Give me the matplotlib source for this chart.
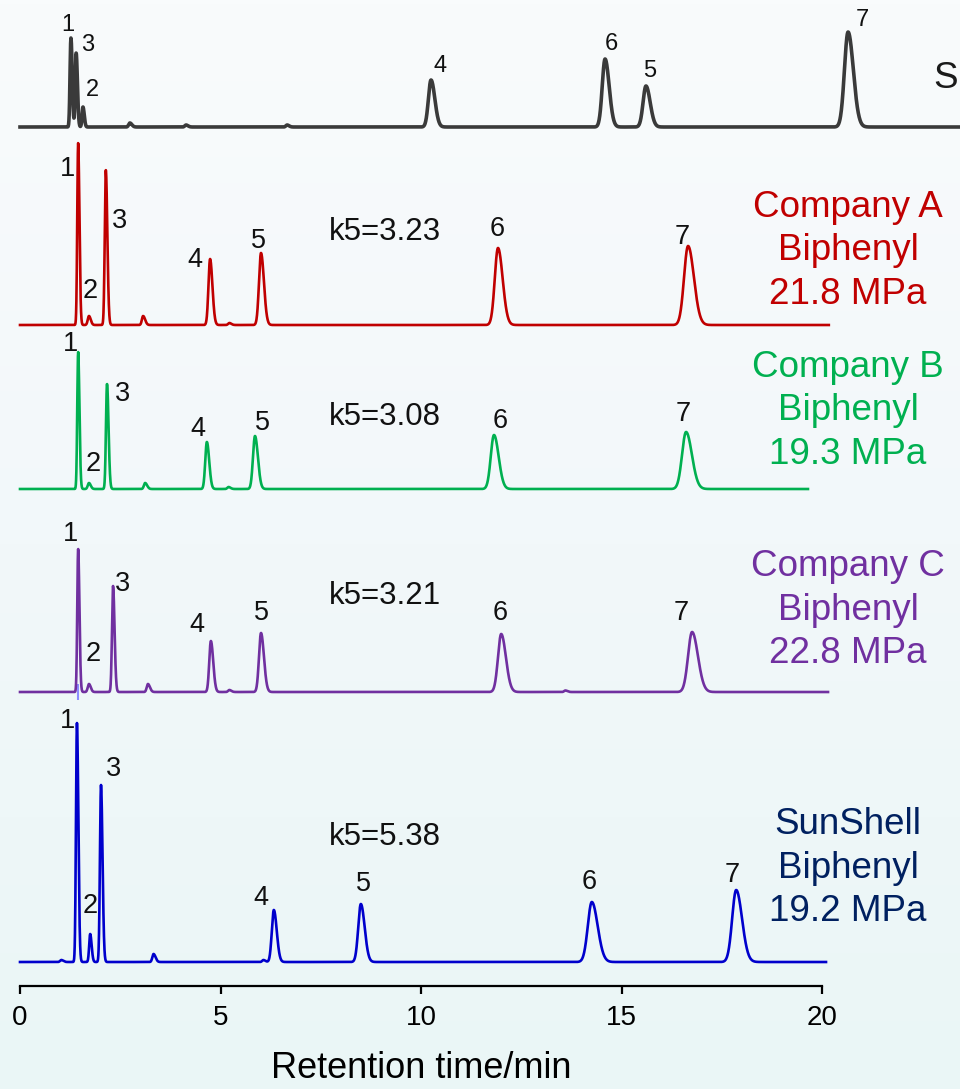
import numpy as np
import matplotlib
matplotlib.use("Agg")
import matplotlib.pyplot as plt
from matplotlib import font_manager
from matplotlib.colors import LinearSegmentedColormap

# ---------------- chromatogram data ----------------
# retention times (min), peak heights (detector units), peak widths (sigma, min)
peak_ids = ["1", "2", "3", "4", "5", "6", "7"]

ref_times = [1.27, 1.57, 1.40, 10.25, 15.61, 14.59, 20.65]
ref_heights = [89, 20, 74, 47, 41, 68, 95]
ref_sigmas = [0.022, 0.022, 0.022, 0.065, 0.072, 0.07, 0.09]
ref_minor_times = [2.74, 4.14, 6.66]
ref_minor_heights = [4, 2, 2]

a_times = [1.45, 1.72, 2.14, 4.74, 6.01, 11.92, 16.66]
a_heights = [182, 9, 155, 66, 72, 77, 79]
a_sigmas = [0.022, 0.03, 0.026, 0.04, 0.05, 0.08, 0.1]
a_minor_times = [3.07, 5.22]
a_minor_heights = [9, 2]

b_times = [1.45, 1.72, 2.17, 4.66, 5.86, 11.82, 16.61]
b_heights = [137, 6, 105, 47, 53, 54, 57]
b_sigmas = [0.022, 0.03, 0.026, 0.04, 0.05, 0.08, 0.1]
b_minor_times = [3.12, 5.2]
b_minor_heights = [6, 2]

c_times = [1.45, 1.72, 2.32, 4.76, 6.01, 12.0, 16.76]
c_heights = [143, 8, 106, 51, 59, 58, 60]
c_sigmas = [0.022, 0.03, 0.026, 0.04, 0.05, 0.08, 0.1]
c_minor_times = [3.19, 5.22, 13.6]
c_minor_heights = [8, 2, 1.5]

s_times = [1.42, 1.75, 2.02, 6.33, 8.50, 14.26, 17.86]
s_heights = [239, 28, 177, 52, 58, 60, 72]
s_sigmas = [0.024, 0.025, 0.026, 0.05, 0.065, 0.1, 0.1]
s_minor_times = [1.03, 3.33, 6.07]
s_minor_heights = [2, 8, 2]

run_ends = [23.44, 20.17, 19.65, 20.15, 20.10]
k5_values = ["", "3.23", "3.08", "3.21", "5.38"]
column_labels = ["", "Company A\nBiphenyl\n21.8 MPa", "Company B\nBiphenyl\n19.3 MPa",
                 "Company C\nBiphenyl\n22.8 MPa", "SunShell\nBiphenyl\n19.2 MPa"]

x_ticks = [0, 5, 10, 15, 20]
x_label = "Retention time/min"

# ---------------- layout / styling ----------------
W, H, DPI = 960, 1089, 100
PX_PER_MIN = 40.1
AXIS_Y = 986                      # pixel row of the time axis
X0 = 20                           # pixel column of t = 0

offsets = [859, 661, 497, 294, 24]            # trace baselines above the axis (px)
line_colors = ["#3a3a3a", "#C00000", "#00B050", "#7030A0", "#0000CC"]
text_colors = ["#1a1a1a", "#C00000", "#00B050", "#7030A0", "#002060"]
line_widths = [2.6, 1.9, 1.9, 1.9, 1.9]
label_sizes = [17, 19.5, 19.5, 19.5, 19.5]

# peak-number label offsets from each apex (px, right / up)
label_offsets = [
    [(-3, 13), (9, 17), (12, 8), (9, 14), (4, 15), (6, 15), (14, 12)],
    [(-11, -26), (1, 25), (14, -51), (-15, -1), (-3, 12), (-1, 19), (-6, 9)],
    [(-8, 8), (4, 19), (16, -10), (-9, 13), (7, 13), (6, 14), (-3, 18)],
    [(-8, 15), (4, 30), (9, 2), (-14, 16), (0, 20), (-1, 21), (-11, 19)],
    [(-9, 2), (0, 28), (13, 16), (-13, 12), (3, 20), (-3, 20), (-4, 15)],
]
k5_heights = [0, 93, 72, 96, 125]          # k5 text height above baseline (px)
name_heights = [0, 74, 78, 82, 94]         # column label (middle line) above baseline
K5_T = 9.1
NAME_T = 20.65


def pick_font(names):
    for n in names:
        try:
            font_manager.findfont(font_manager.FontProperties(family=n), fallback_to_default=False)
            return n
        except Exception:
            continue
    return "DejaVu Sans"


main_font = pick_font(["Liberation Sans", "Arial", "DejaVu Sans"])
narrow_font = pick_font(["Liberation Sans Narrow", "Arial Narrow", "DejaVu Sans Condensed", "Liberation Sans"])
plt.rcParams["font.family"] = main_font


def chromatogram(t, times, heights, sigmas, minor_t, minor_h):
    """Sum of slightly tailing Gaussian peaks."""
    y = np.zeros_like(t)
    for tr, h, s in zip(times, heights, sigmas):
        sig = np.where(t < tr, s, 1.45 * s)
        y += h * np.exp(-0.5 * ((t - tr) / sig) ** 2)
    for tr, h in zip(minor_t, minor_h):
        sig = np.where(t < tr, 0.03, 0.05)
        y += h * np.exp(-0.5 * ((t - tr) / sig) ** 2)
    return y


traces = [
    (ref_times, ref_heights, ref_sigmas, ref_minor_times, ref_minor_heights),
    (a_times, a_heights, a_sigmas, a_minor_times, a_minor_heights),
    (b_times, b_heights, b_sigmas, b_minor_times, b_minor_heights),
    (c_times, c_heights, c_sigmas, c_minor_times, c_minor_heights),
    (s_times, s_heights, s_sigmas, s_minor_times, s_minor_heights),
]

fig = plt.figure(figsize=(W / DPI, H / DPI), dpi=DPI)

# soft vertical background gradient
bg = fig.add_axes([0, 0, 1, 1], zorder=-10)
cmap = LinearSegmentedColormap.from_list("bg", ["#F9FBFC", "#F2F8FA", "#EAF6F6"])
bg.imshow(np.linspace(0, 1, 256).reshape(-1, 1), aspect="auto", cmap=cmap,
          extent=[0, 1, 0, 1], origin="upper")
bg.set_axis_off()

ax = fig.add_axes([X0 / W, (H - AXIS_Y) / H, 1 - X0 / W, AXIS_Y / H])
ax.set_facecolor("none")
x_max = (W - X0) / PX_PER_MIN
ax.set_xlim(0, x_max)
ax.set_ylim(0, AXIS_Y)

px2pt = 72.0 / DPI

for i, (times, heights, sigmas, mt, mh) in enumerate(traces):
    t = np.linspace(0, run_ends[i], 6000)
    y = chromatogram(t, times, heights, sigmas, mt, mh) + offsets[i]
    ax.plot(t, y, color=line_colors[i], lw=line_widths[i], solid_joinstyle="round",
            clip_on=False, zorder=3)
    for pid, tr, h, (dx, dy) in zip(peak_ids, times, heights, label_offsets[i]):
        ax.annotate(pid, xy=(tr, offsets[i] + h), xytext=(dx * px2pt, dy * px2pt),
                    textcoords="offset points", ha="center", va="center",
                    fontsize=label_sizes[i], color="#111111", zorder=5)
    if k5_values[i]:
        ax.text(K5_T, offsets[i] + k5_heights[i], "k5=" + k5_values[i], ha="center",
                va="center", fontsize=22.5, color="#111111")
    if column_labels[i]:
        ax.text(NAME_T, offsets[i] + name_heights[i], column_labels[i], ha="center",
                va="center", fontsize=26.5, color=text_colors[i], linespacing=1.3)

# faint marker under the first peak of the Company C run
ax.vlines(c_times[0], offsets[3] - 8, offsets[3] + 8, color="#8C8CFF", lw=1.5, zorder=2)

# label of the top trace, at the right edge
ax.text(x_max - 0.05, offsets[0] + 48, "S", ha="right", va="center",
        fontsize=26.5, color="#1a1a1a")

for side in ["left", "right", "top"]:
    ax.spines[side].set_visible(False)
ax.spines["bottom"].set_bounds(0, 20)
ax.spines["bottom"].set_linewidth(1.6)
ax.set_yticks([])
ax.set_xticks(x_ticks)
ax.set_xticklabels([str(v) for v in x_ticks], fontfamily=narrow_font, fontsize=20)
ax.tick_params(axis="x", direction="out", length=6, width=1.6, pad=8)
ax.text(10, -82, x_label, ha="center", va="center", fontsize=26, fontfamily=narrow_font)

fig.savefig("out.png", dpi=DPI)
